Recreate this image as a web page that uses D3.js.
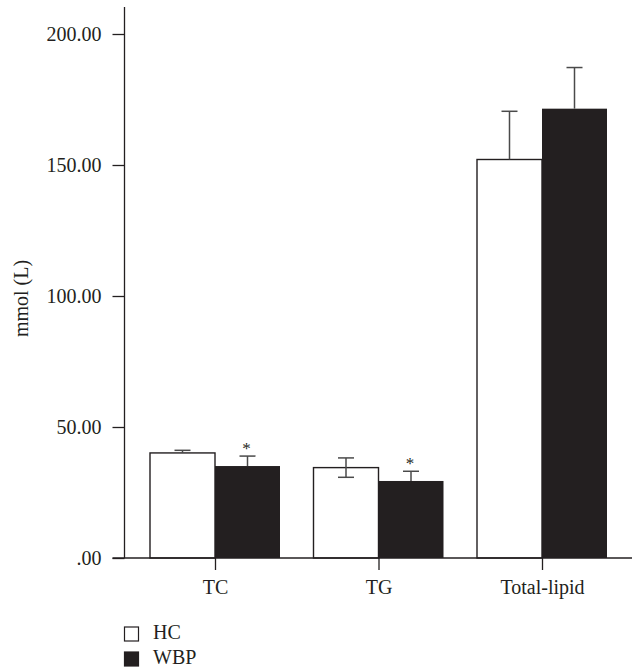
<!DOCTYPE html>
<html>
<head>
<meta charset="utf-8">
<script src="https://cdn.jsdelivr.net/npm/d3@7"></script>
<style>
  html, body { margin: 0; padding: 0; background: #fff; }
  svg text { font-family: "Liberation Serif", "DejaVu Serif", serif; fill: #231f20; }
</style>
</head>
<body>
<svg id="chart" width="636" height="669"></svg>
<script>
const categories = ["TC", "TG", "Total-lipid"];
const seriesNames = ["HC", "WBP"];
const hcValues = [40.1, 34.5, 152.1];
const hcErrors = [1.0, 3.7, 18.4];
const wbpValues = [35.1, 29.4, 171.5];
const wbpErrors = [3.8, 3.7, 15.7];
const wbpSignificant = [true, true, false];
const yTicks = [0, 50, 100, 150, 200];
const yTickLabels = [".00", "50.00", "100.00", "150.00", "200.00"];
const yLabel = "mmol (L)";

const ink = "#231f20";
const svg = d3.select("#chart");

const y = d3.scaleLinear().domain([0, 200]).range([558, 34]);
const x = d3.scalePoint().domain(categories).range([215, 542]).padding(0);
const barW = 65;
const capW = 16;

// Y axis
const yAxis = d3.axisLeft(y)
  .tickValues(yTicks)
  .tickFormat((d, i) => yTickLabels[i])
  .tickSize(12)
  .tickPadding(11);
const gy = svg.append("g").attr("transform", "translate(124.5,0)").call(yAxis);
gy.select(".domain").remove();
gy.selectAll(".tick line").attr("stroke", ink).attr("stroke-width", 1.3);
gy.selectAll(".tick text").attr("font-size", 20).attr("font-family", "Liberation Serif").attr("fill", ink);
svg.append("line").attr("x1", 124.5).attr("x2", 124.5).attr("y1", 7).attr("y2", y(0))
  .attr("stroke", ink).attr("stroke-width", 1.3);

// X axis
const xAxis = d3.axisBottom(x).tickSize(12).tickPadding(10).tickSizeOuter(0);
const gx = svg.append("g").attr("transform", `translate(0,${y(0)})`).call(xAxis);
gx.select(".domain").remove();
gx.selectAll(".tick line").attr("stroke", ink).attr("stroke-width", 1.3);
gx.selectAll(".tick text").attr("font-size", 20).attr("font-family", "Liberation Serif").attr("fill", ink);

// Y label
svg.append("text")
  .attr("transform", `translate(28,298.5) rotate(-90)`)
  .attr("text-anchor", "middle")
  .attr("font-size", 20)
  .text(yLabel);

// Bars
const data = categories.map((c, i) => ({
  c, hc: hcValues[i], hcE: hcErrors[i], wbp: wbpValues[i], wbpE: wbpErrors[i], sig: wbpSignificant[i]
}));

const g = svg.append("g");
function errBar(cx, v, e, twoSided) {
  const lo = twoSided ? v - e : v;
  g.append("line").attr("x1", cx).attr("x2", cx).attr("y1", y(v + e)).attr("y2", y(lo))
    .attr("stroke", "#4a4a4a").attr("stroke-width", 1.5);
  g.append("line").attr("x1", cx - capW / 2).attr("x2", cx + capW / 2).attr("y1", y(v + e)).attr("y2", y(v + e))
    .attr("stroke", "#4a4a4a").attr("stroke-width", 1.5);
  if (twoSided) {
    g.append("line").attr("x1", cx - capW / 2).attr("x2", cx + capW / 2).attr("y1", y(v - e)).attr("y2", y(v - e))
      .attr("stroke", "#4a4a4a").attr("stroke-width", 1.5);
  }
}

data.forEach(d => {
  const cx = x(d.c);
  g.append("rect").attr("x", cx - barW).attr("y", y(d.hc)).attr("width", barW).attr("height", y(0) - y(d.hc))
    .attr("fill", "#fff").attr("stroke", ink).attr("stroke-width", 1.4);
  g.append("rect").attr("x", cx).attr("y", y(d.wbp)).attr("width", barW).attr("height", y(0) - y(d.wbp))
    .attr("fill", ink);
  errBar(cx - barW / 2, d.hc, d.hcE, d.c === "TG");
  errBar(cx + barW / 2, d.wbp, d.wbpE, false);
  if (d.sig) {
    g.append("text").attr("x", cx + barW / 2 - 1).attr("y", y(d.wbp + d.wbpE) - 2)
      .attr("text-anchor", "middle").attr("font-size", 17).attr("fill", ink).text("*");
  }
});

// baseline
svg.append("line").attr("x1", 112.5).attr("x2", 632).attr("y1", y(0)).attr("y2", y(0))
  .attr("stroke", ink).attr("stroke-width", 1.3);

// Legend
const legend = svg.append("g");
seriesNames.forEach((s, i) => {
  const ly = 627 + i * 25;
  legend.append("rect").attr("x", 124.5).attr("y", ly).attr("width", 14).attr("height", 14)
    .attr("fill", i === 0 ? "#fff" : ink).attr("stroke", ink).attr("stroke-width", 1.2);
  legend.append("text").attr("x", 153).attr("y", ly + 12).attr("font-size", 20).text(s);
});
</script>
</body>
</html>
